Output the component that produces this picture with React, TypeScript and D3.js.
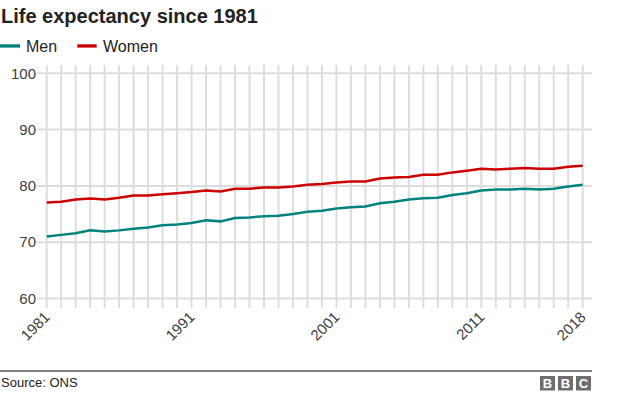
import React from 'react';
import * as d3 from 'd3';

// 1981 - 2018
const years = d3.range(1981, 2019);

const menValues = [
  71.0, 71.3, 71.6, 72.1, 71.9, 72.1, 72.4, 72.6, 73.0, 73.15,
  73.4, 73.9, 73.7, 74.3, 74.4, 74.6, 74.7, 75.0, 75.4, 75.6,
  76.0, 76.2, 76.35, 76.9, 77.2, 77.6, 77.8, 77.9, 78.4, 78.7,
  79.2, 79.35, 79.35, 79.5, 79.35, 79.5, 79.9, 80.2,
];

const womenValues = [
  77.05, 77.2, 77.6, 77.75, 77.6, 77.9, 78.3, 78.3, 78.5, 78.7,
  78.9, 79.2, 79.0, 79.5, 79.5, 79.7, 79.7, 79.9, 80.2, 80.35,
  80.6, 80.8, 80.8, 81.3, 81.5, 81.6, 82.0, 82.0, 82.4, 82.7,
  83.05, 82.9, 83.05, 83.2, 83.05, 83.05, 83.4, 83.6,
];

const yTicks = [60, 70, 80, 90, 100];
const xTickLabels = [1981, 1991, 2001, 2011, 2018];

const MEN = '#00827d';
const WOMEN = '#cc0000';
const GRID = '#dddddd';
const FONT = '"Liberation Sans", Arial, Helvetica, sans-serif';

export default function App() {
  const width = 624;
  const height = 395;

  const x = d3.scaleLinear().domain([1981, 2018]).range([46.7, 582.7]);
  const y = d3.scaleLinear().domain([60, 100]).range([298.5, 73.3]);

  const line = d3
    .line<number>()
    .x((_, i) => x(years[i]))
    .y(d => y(d));

  return (
    <svg
      width={width}
      height={height}
      style={{ position: 'absolute', left: 0, top: 0, fontFamily: FONT }}
    >
      <rect width={width} height={height} fill="#fff" />

      {/* 제목 */}
      <text x={1} y={22.7} fontSize={20} fontWeight="bold" fill="#222">
        Life expectancy since 1981
      </text>

      {/* 범례 */}
      <rect x={0} y={44.3} width={20} height={3.3} fill={MEN} />
      <text x={26} y={51.7} fontSize={16} fill="#222">Men</text>
      <rect x={77.3} y={44.3} width={19.4} height={3.3} fill={WOMEN} />
      <text x={103} y={51.7} fontSize={16} fill="#222">Women</text>

      {/* 세로 그리드 (매년) */}
      {years.map(yr => (
        <line
          key={yr}
          x1={x(yr)}
          x2={x(yr)}
          y1={65}
          y2={308}
          stroke={GRID}
          strokeWidth={2}
        />
      ))}

      {/* 가로 그리드 + Y축 */}
      {yTicks.map(t => (
        <g key={t}>
          <line x1={37} x2={592} y1={y(t)} y2={y(t)} stroke={GRID} strokeWidth={2} />
          <text
            x={36}
            y={y(t)}
            dy="0.35em"
            textAnchor="end"
            fontSize={15}
            fill="#404040"
          >
            {t}
          </text>
        </g>
      ))}

      {/* X축 라벨 */}
      {xTickLabels.map(t => (
        <text
          key={t}
          transform={`translate(${x(t) + 4},318) rotate(-45)`}
          textAnchor="end"
          fontSize={15}
          fill="#404040"
        >
          {t}
        </text>
      ))}

      {/* 라인 */}
      <path d={line(menValues) ?? ''} fill="none" stroke={MEN} strokeWidth={2.5} />
      <path d={line(womenValues) ?? ''} fill="none" stroke={WOMEN} strokeWidth={2.5} />

      {/* 푸터 */}
      <line x1={0} x2={592} y1={371} y2={371} stroke="#000" strokeWidth={1} />
      <text x={1} y={386.7} fontSize={13} fill="#222">Source: ONS</text>
      {['B', 'B', 'C'].map((c, i) => (
        <g key={i} transform={`translate(${540 + i * 18},376)`}>
          <rect width={15} height={14.5} fill="#6e6e6e" />
          <text
            x={7.5}
            y={12}
            textAnchor="middle"
            fontSize={13}
            fontWeight="bold"
            fill="#fff"
          >
            {c}
          </text>
        </g>
      ))}
    </svg>
  );
}
